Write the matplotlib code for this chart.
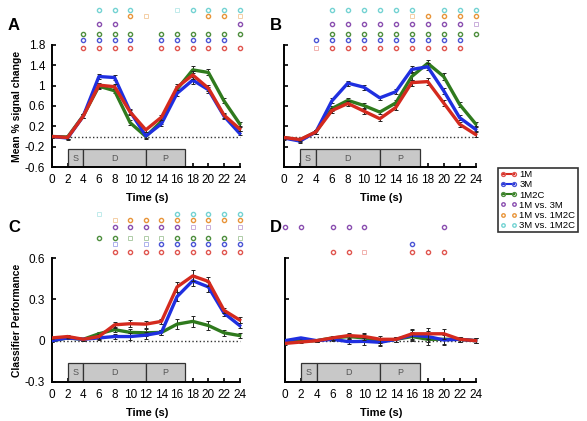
import numpy as np
import matplotlib
matplotlib.use('Agg')
from matplotlib import pyplot as plt
from matplotlib.patches import Rectangle
from matplotlib.lines import Line2D

plt.rcParams['font.family'] = ['Liberation Sans', 'DejaVu Sans']

time = np.arange(0, 25, 2)

# mean % signal change (top row)
A_1M   = [0.0, -0.02, 0.40, 1.01, 0.98, 0.48, 0.13, 0.38, 0.97, 1.21, 0.95, 0.42, 0.15]
A_3M   = [0.0, -0.03, 0.40, 1.18, 1.16, 0.49, 0.01, 0.25, 0.85, 1.11, 0.92, 0.40, 0.06]
A_1M2C = [0.0, -0.01, 0.41, 0.99, 0.90, 0.27, 0.00, 0.30, 0.93, 1.31, 1.26, 0.70, 0.25]
B_1M   = [-0.02, -0.06, 0.09, 0.51, 0.65, 0.50, 0.35, 0.57, 1.06, 1.08, 0.66, 0.24, 0.04]
B_3M   = [-0.03, -0.09, 0.09, 0.70, 1.05, 0.97, 0.76, 0.88, 1.32, 1.37, 0.90, 0.37, 0.14]
B_1M2C = [-0.02, -0.07, 0.09, 0.55, 0.71, 0.61, 0.48, 0.66, 1.18, 1.44, 1.18, 0.63, 0.25]
AB_err = [0.03, 0.03, 0.04, 0.05, 0.05, 0.05, 0.04, 0.05, 0.06, 0.07, 0.06, 0.05, 0.04]

# classifier performance (bottom row)
C_1M   = [0.02, 0.03, 0.01, 0.03, 0.115, 0.123, 0.12, 0.14, 0.39, 0.47, 0.43, 0.22, 0.15]
C_3M   = [0.00, 0.02, 0.01, 0.02, 0.03, 0.03, 0.04, 0.06, 0.32, 0.435, 0.39, 0.20, 0.11]
C_1M2C = [0.00, 0.02, 0.01, 0.05, 0.08, 0.06, 0.057, 0.06, 0.12, 0.14, 0.11, 0.057, 0.037]
D_1M   = [-0.02, -0.01, 0.0, 0.02, 0.037, 0.03, 0.01, 0.01, 0.05, 0.05, 0.05, 0.01, 0.0]
D_3M   = [0.0, 0.02, 0.0, 0.01, -0.007, -0.005, -0.012, 0.01, 0.04, 0.03, 0.005, 0.01, 0.0]
D_1M2C = [-0.01, 0.0, 0.0, 0.02, 0.03, 0.02, -0.005, 0.01, 0.03, 0.01, 0.01, 0.01, 0.0]
CD_err = [0.01, 0.01, 0.01, 0.015, 0.02, 0.025, 0.025, 0.02, 0.035, 0.04, 0.035, 0.02, 0.02]

# significant time points: (solid, faint)
sig_A = {'1M': ([4, 6, 8, 10, 14, 16, 18, 20, 22, 24], []),
         '3M': ([4, 6, 8, 10, 14, 16, 18, 20, 22], []),
         '1M2C': ([4, 6, 8, 10, 14, 16, 18, 20, 22, 24], []),
         '1M vs. 3M': ([6, 8, 24], []),
         '1M vs. 1M2C': ([10, 20, 22], [12, 24]),
         '3M vs. 1M2C': ([6, 8, 10, 18, 20, 22, 24], [16])}
sig_B = {'1M': ([6, 8, 10, 12, 14, 16, 18, 20, 22], [4]),
         '3M': ([4, 6, 8, 10, 12, 14, 16, 18, 20, 22], []),
         '1M2C': ([6, 8, 10, 12, 14, 16, 18, 20, 22, 24], []),
         '1M vs. 3M': ([6, 8, 10, 12, 14, 16, 18, 20, 22], [24]),
         '1M vs. 1M2C': ([18, 20, 22, 24], [16]),
         '3M vs. 1M2C': ([6, 8, 10, 12, 14, 16, 20, 22, 24], [])}
sig_C = {'1M': ([8, 10, 12, 14, 16, 18, 20, 22, 24], []),
         '3M': ([14, 16, 18, 20, 22, 24], [8, 12]),
         '1M2C': ([6, 8, 16, 18, 20, 22], [10, 12, 14, 24]),
         '1M vs. 3M': ([8, 10, 12, 14, 16], [18, 20, 24]),
         '1M vs. 1M2C': ([10, 12, 14, 16, 18, 20, 22, 24], [8]),
         '3M vs. 1M2C': ([16, 18, 20, 22, 24], [6])}
sig_D = {'1M': ([6, 8, 16, 18, 20], [10]),
         '3M': ([16], []),
         '1M2C': ([], []),
         '1M vs. 3M': ([0, 2, 6, 8, 10, 20], []),
         '1M vs. 1M2C': ([], []),
         '3M vs. 1M2C': ([], [])}

conds = ['1M', '3M', '1M2C', '1M vs. 3M', '1M vs. 1M2C', '3M vs. 1M2C']
colors = {'1M': '#d42a1e', '3M': '#1f2fe0', '1M2C': '#2f7a1d'}
dot_colors = {'1M': '#e0554f', '3M': '#4b55d6', '1M2C': '#4f8f3f',
              '1M vs. 3M': '#8a4fb0', '1M vs. 1M2C': '#e8953a', '3M vs. 1M2C': '#74d3d3'}

rows_top = [1.75, 1.89, 2.02, 2.22, 2.37, 2.48]
rows_bot = [0.644, 0.70, 0.745, 0.825, 0.876, 0.92]

fig = plt.figure(figsize=(5.87, 4.21), dpi=100)
W, H = 587, 421


def make_ax(l, r, top, bot):
    return fig.add_axes([l / W, 1 - bot / H, (r - l) / W, (bot - top) / H])


axA = make_ax(52, 242, 45, 167)
axB = make_ax(284, 478, 45, 167)
axC = make_ax(52, 242, 258, 382)
axD = make_ax(285, 478, 258, 382)

panels = [
    (axA, [A_1M, A_3M, A_1M2C], AB_err, sig_A, rows_top, (-0.6, 1.8), (-0.25, -0.6)),
    (axB, [B_1M, B_3M, B_1M2C], AB_err, sig_B, rows_top, (-0.6, 1.8), (-0.25, -0.6)),
    (axC, [C_1M, C_3M, C_1M2C], CD_err, sig_C, rows_bot, (-0.3, 0.6), (-0.16, -0.3)),
    (axD, [D_1M, D_3M, D_1M2C], CD_err, sig_D, rows_bot, (-0.3, 0.6), (-0.16, -0.3)),
]

for ax, series, err, sig, rows, ylim, box in panels:
    ax.set_xlim(0, 24.3)
    ax.set_ylim(*ylim)
    ax.axhline(0, 0, 24 / 24.3, color='#333333', ls=':', lw=1, zorder=1)
    # task phase boxes
    for (x0, x1, lab) in [(2, 4, 'S'), (4, 12, 'D'), (12, 17, 'P')]:
        ax.add_patch(Rectangle((x0, box[1]), x1 - x0, box[0] - box[1],
                               facecolor='#c8c8c8', edgecolor='#333333', lw=0.9, zorder=2))
        ax.text((x0 + x1) / 2, (box[0] + box[1]) / 2, lab, ha='center', va='center',
                fontsize=6.5, color='#555555', zorder=3)
    # lines, drawn green/blue/red
    for k in [2, 1, 0]:
        name = conds[k]
        ax.errorbar(time, series[k], yerr=err, color=colors[name], lw=2.4,
                    ecolor='#222222', elinewidth=0.7, capsize=1.5, capthick=0.7, zorder=4 + (2 - k))
    # significance dots
    for name, yrow in zip(conds, rows):
        solid, faint = sig[name]
        if solid:
            ax.plot(solid, [yrow] * len(solid), 'o', ms=3, mfc='none', mew=1.0,
                    mec=dot_colors[name], clip_on=False)
        if faint:
            ax.plot(faint, [yrow] * len(faint), 's', ms=2.5, mfc='none', mew=0.7,
                    mec=dot_colors[name], alpha=0.45, clip_on=False)
    for s in ['top', 'right']:
        ax.spines[s].set_visible(False)
    for s in ['left', 'bottom']:
        ax.spines[s].set_linewidth(1.4)
    ax.spines['bottom'].set_bounds(0, 24)
    ax.set_xticks(np.arange(0, 25, 2))
    ax.tick_params(direction='in', length=3, width=1.2, labelsize=8.5, pad=5)
    ax.set_xlabel('Time (s)', fontsize=8, fontweight='bold', labelpad=5)

axA.set_yticks([-0.6, -0.2, 0.2, 0.6, 1, 1.4, 1.8])
axA.set_yticklabels(['-0.6', '-0.2', '0.2', '0.6', '1', '1.4', '1.8'])
axB.set_yticks([-0.6, -0.2, 0.2, 0.6, 1, 1.4, 1.8])
axB.set_yticklabels([])
axC.set_yticks([-0.3, 0, 0.3, 0.6])
axC.set_yticklabels(['-0.3', '0', '0.3', '0.6'])
axD.set_yticks([-0.3, 0, 0.3, 0.6])
axD.set_yticklabels([])
axA.set_ylabel('Mean % signal change', fontsize=7.5, fontweight='bold', labelpad=2)
axC.set_ylabel('Classifier Performance', fontsize=7.5, fontweight='bold', labelpad=2)

for letter, (x, y) in zip('ABCD', [(8, 25), (270, 25), (8, 228), (270, 228)]):
    fig.text(x / W, 1 - y / H, letter, fontsize=12, fontweight='bold', ha='left', va='center')

# legend
handles = []
for name in conds:
    if name in colors:
        handles.append(Line2D([], [], color=colors[name], lw=1.5, marker='o', ms=2.8,
                              mfc='none', mec=dot_colors[name], markevery=[1]))
    else:
        handles.append(Line2D([], [], ls='none', marker='o', ms=2.5, mfc='none',
                              mec=dot_colors[name]))
leg = fig.legend(handles, conds, loc='upper left', bbox_to_anchor=(498 / W, 1 - 168 / H),
                 fontsize=6.8, frameon=True, fancybox=False, handlelength=1.7,
                 handletextpad=0.3, borderpad=0.25, borderaxespad=0, labelspacing=0.12,
                 numpoints=2)
leg.get_frame().set_edgecolor('black')
leg.get_frame().set_linewidth(1.2)

plt.savefig('out.png', dpi=100)
